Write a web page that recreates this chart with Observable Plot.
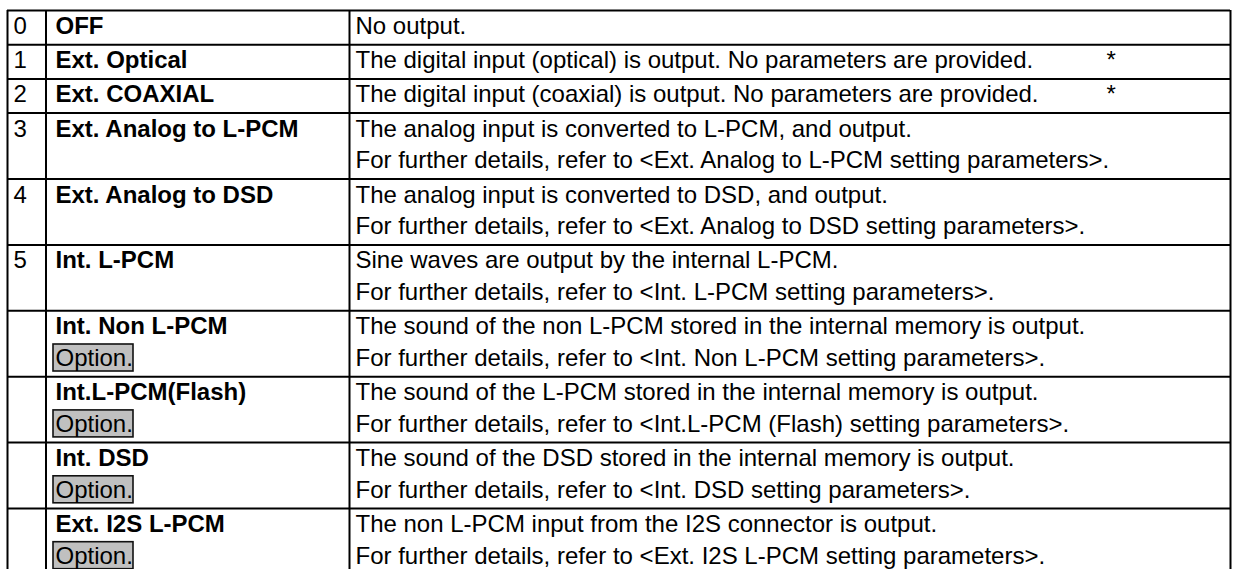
<!DOCTYPE html>
<html>
<head>
<meta charset="utf-8">
<script src="https://cdn.jsdelivr.net/npm/d3@7"></script>
<script src="https://cdn.jsdelivr.net/npm/@observablehq/plot@0.6"></script>
<style>
  html, body { margin: 0; padding: 0; background: #fff; }
  #chart svg { display: block; }
</style>
</head>
<body>
<div id="chart"></div>
<script>
// ---- data ----
const numbers = ["0", "1", "2", "3", "4", "5", "", "", "", ""];
const modes = [
  "OFF",
  "Ext. Optical",
  "Ext. COAXIAL",
  "Ext. Analog to L-PCM",
  "Ext. Analog to DSD",
  "Int. L-PCM",
  "Int. Non L-PCM",
  "Int.L-PCM(Flash)",
  "Int. DSD",
  "Ext. I2S L-PCM"
];
const optionTags = ["", "", "", "", "", "", "Option.", "Option.", "Option.", "Option."];
const descLine1 = [
  "No output.",
  "The digital input (optical) is output. No parameters are provided.",
  "The digital input (coaxial) is output. No parameters are provided.",
  "The analog input is converted to L-PCM, and output.",
  "The analog input is converted to DSD, and output.",
  "Sine waves are output by the internal L-PCM.",
  "The sound of the non L-PCM stored in the internal memory is output.",
  "The sound of the L-PCM stored in the internal memory is output.",
  "The sound of the DSD stored in the internal memory is output.",
  "The non L-PCM input from the I2S connector is output."
];
const descLine2 = [
  "",
  "",
  "",
  "For further details, refer to <Ext. Analog to L-PCM setting parameters>.",
  "For further details, refer to <Ext. Analog to DSD setting parameters>.",
  "For further details, refer to <Int. L-PCM setting parameters>.",
  "For further details, refer to <Int. Non L-PCM setting parameters>.",
  "For further details, refer to <Int.L-PCM (Flash) setting parameters>.",
  "For further details, refer to <Int. DSD setting parameters>.",
  "For further details, refer to <Ext. I2S L-PCM setting parameters>."
];
const notes = ["", "*", "*", "", "", "", "", "", "", ""];

// ---- layout ----
const W = 1240, H = 569;
const TOP = 10, PAD = 2.5, LS = 31.7, BASE = 23.5;
const LEFT = 7, C1 = 45.5, C2 = 349, RIGHT = 1230;
const X_NUM = 13, X_MODE = 55, X_DESC = 355, X_NOTE = 1106;
const BOX_X1 = 53, BOX_X2 = 133;

const rows = [];
let acc = TOP;
modes.forEach((m, i) => {
  const n = (descLine2[i] || optionTags[i]) ? 2 : 1;
  rows.push({
    num: numbers[i], mode: m, opt: optionTags[i],
    d1: descLine1[i], d2: descLine2[i], note: notes[i],
    top: acc, b1: acc + BASE, b2: acc + BASE + LS
  });
  acc += PAD + n * LS;
});
const hLines = [TOP, ...rows.map((r, i) => i + 1 < rows.length ? rows[i + 1].top : acc)];
const vLines = [LEFT, C1, C2, RIGHT];
const optRows = rows.filter(r => r.opt);

const chart = Plot.plot({
  width: W,
  height: H,
  margin: 0,
  x: {domain: [0, W], range: [0, W], axis: null},
  y: {domain: [0, H], range: [0, H], axis: null},
  style: {fontFamily: "'Liberation Sans', Arial, sans-serif", fontSize: "24px", color: "#000", background: "#fff"},
  marks: [
    Plot.rect(optRows, {
      x1: () => BOX_X1, x2: () => BOX_X2,
      y1: r => r.b2 - 21.5, y2: r => r.b2 + 5.5,
      fill: "#c0c0c0", stroke: "#111", strokeWidth: 1.6
    }),
    Plot.ruleY(hLines, {x1: LEFT, x2: RIGHT, stroke: "#000", strokeWidth: 2}),
    Plot.ruleX(vLines, {y1: TOP, y2: H + 10, stroke: "#000", strokeWidth: 2}),
    Plot.text(rows, {x: () => X_NUM, y: "b1", text: "num", textAnchor: "start", lineAnchor: "bottom", fill: "#000", fontSize: 24}),
    Plot.text(rows, {x: () => X_MODE, y: "b1", text: "mode", textAnchor: "start", lineAnchor: "bottom", fill: "#000", fontSize: 24, fontWeight: "bold"}),
    Plot.text(optRows, {x: () => X_MODE, y: "b2", text: "opt", textAnchor: "start", lineAnchor: "bottom", fill: "#000", fontSize: 24}),
    Plot.text(rows, {x: () => X_DESC, y: "b1", text: "d1", textAnchor: "start", lineAnchor: "bottom", fill: "#000", fontSize: 24}),
    Plot.text(rows.filter(r => r.d2), {x: () => X_DESC, y: "b2", text: "d2", textAnchor: "start", lineAnchor: "bottom", fill: "#000", fontSize: 24}),
    Plot.text(rows.filter(r => r.note), {x: () => X_NOTE, y: "b1", text: "note", textAnchor: "start", lineAnchor: "bottom", fill: "#000", fontSize: 24})
  ]
});
document.getElementById("chart").appendChild(chart);
</script>
</body>
</html>
